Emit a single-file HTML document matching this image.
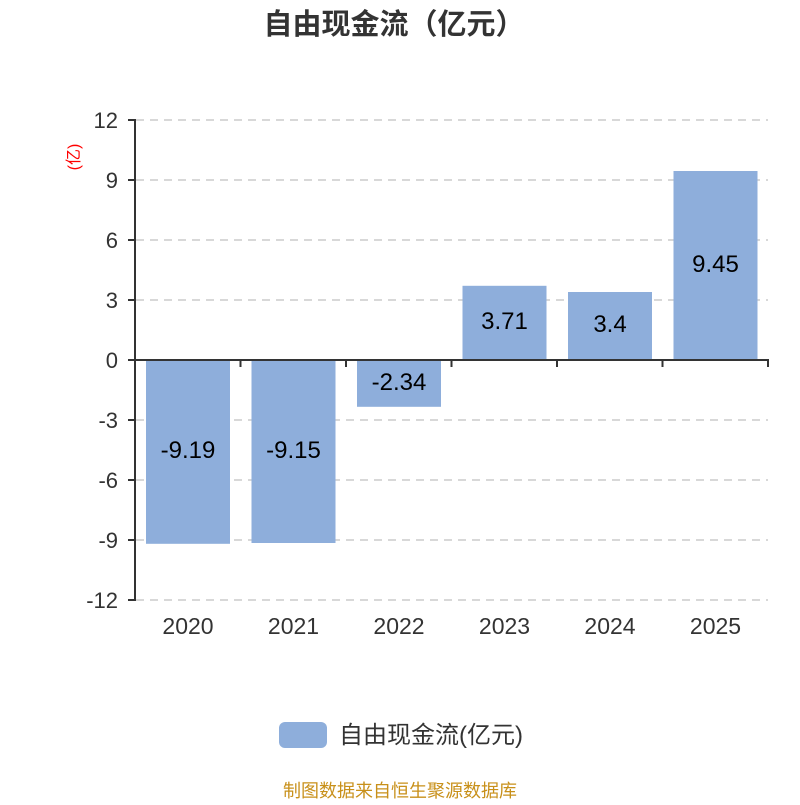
<!DOCTYPE html>
<html><head><meta charset="utf-8"><style>
body{margin:0;background:#fff}
svg text{font-family:"Liberation Sans","Noto Sans CJK SC",sans-serif}
</style></head><body>
<svg width="800" height="800" viewBox="0 0 800 800" xmlns="http://www.w3.org/2000/svg">
<text x="394" y="34" text-anchor="middle" font-size="29" font-weight="bold" fill="#333">自由现金流（亿元）</text>
<g stroke="#ccc" stroke-width="1.5" stroke-dasharray="8,6">
<line x1="136" y1="120" x2="768" y2="120"/><line x1="136" y1="180" x2="768" y2="180"/>
<line x1="136" y1="240" x2="768" y2="240"/><line x1="136" y1="300" x2="768" y2="300"/>
<line x1="136" y1="420" x2="768" y2="420"/><line x1="136" y1="480" x2="768" y2="480"/>
<line x1="136" y1="540" x2="768" y2="540"/><line x1="136" y1="600" x2="768" y2="600"/>
</g>
<g fill="#8eaedb">
<rect x="146" y="360" width="84" height="183.8"/>
<rect x="251.5" y="360" width="84" height="183"/>
<rect x="357" y="360" width="84" height="46.8"/>
<rect x="462.5" y="285.8" width="84" height="74.2"/>
<rect x="568" y="292" width="84" height="68"/>
<rect x="673.5" y="171" width="84" height="189"/>
</g>
<g stroke="#333" stroke-width="2">
<line x1="135" y1="119" x2="135" y2="601"/>
<line x1="134" y1="360" x2="769" y2="360"/>
<line x1="128" y1="120" x2="135" y2="120"/><line x1="128" y1="180" x2="135" y2="180"/>
<line x1="128" y1="240" x2="135" y2="240"/><line x1="128" y1="300" x2="135" y2="300"/>
<line x1="128" y1="360" x2="135" y2="360"/><line x1="128" y1="420" x2="135" y2="420"/>
<line x1="128" y1="480" x2="135" y2="480"/><line x1="128" y1="540" x2="135" y2="540"/>
<line x1="128" y1="600" x2="135" y2="600"/>
<line x1="240.5" y1="360" x2="240.5" y2="367"/><line x1="346" y1="360" x2="346" y2="367"/>
<line x1="451.5" y1="360" x2="451.5" y2="367"/><line x1="557" y1="360" x2="557" y2="367"/>
<line x1="662.5" y1="360" x2="662.5" y2="367"/><line x1="768" y1="360" x2="768" y2="367"/>
</g>
<g font-size="22" fill="#333" text-anchor="end">
<text x="118" y="128">12</text><text x="118" y="188">9</text><text x="118" y="248">6</text>
<text x="118" y="308">3</text><text x="118" y="368">0</text><text x="118" y="428">-3</text>
<text x="118" y="488">-6</text><text x="118" y="548">-9</text><text x="118" y="608">-12</text>
</g>
<text transform="translate(79,157) rotate(-90)" text-anchor="middle" font-size="16" fill="#f00">(亿)</text>
<g font-size="23" fill="#333" text-anchor="middle">
<text x="188" y="634">2020</text><text x="293.5" y="634">2021</text><text x="399" y="634">2022</text>
<text x="504.5" y="634">2023</text><text x="610" y="634">2024</text><text x="715.5" y="634">2025</text>
</g>
<g font-size="24" fill="#000" text-anchor="middle">
<text x="188" y="458">-9.19</text><text x="293.5" y="458">-9.15</text><text x="399" y="390">-2.34</text>
<text x="504.5" y="329">3.71</text><text x="610" y="332">3.4</text><text x="715.5" y="272">9.45</text>
</g>
<rect x="279" y="722" width="48" height="26" rx="6" fill="#8eaedb"/>
<text x="339" y="743" font-size="24" fill="#333">自由现金流(亿元)</text>
<text x="400" y="797" text-anchor="middle" font-size="18" fill="#c8901a">制图数据来自恒生聚源数据库</text>
</svg>
</body></html>
